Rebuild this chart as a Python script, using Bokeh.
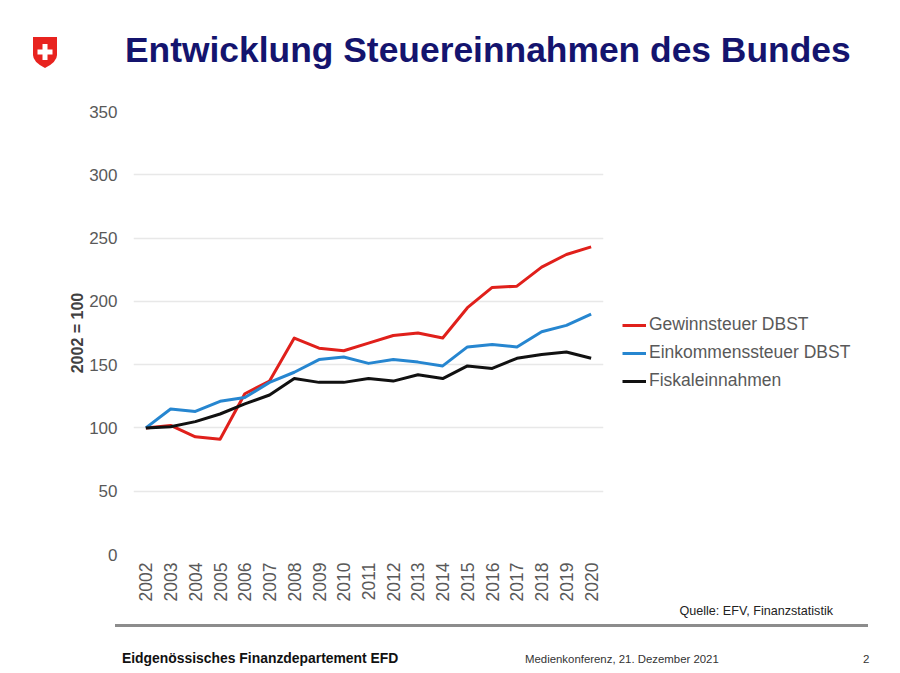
from bokeh.plotting import figure
from bokeh.layouts import column
from bokeh.models import FixedTicker, Legend, LegendItem, Range1d, Div
from bokeh.embed import file_html
from bokeh.resources import INLINE
import math

years = list(range(2002, 2021))
gewinnsteuer = [100, 102, 93, 91, 127, 137, 171, 163, 161, 167, 173, 175, 171,
                195, 211, 212, 227, 237, 243]
einkommenssteuer = [100, 115, 113, 121, 124, 136, 144, 154, 156, 151, 154, 152, 149,
                    164, 166, 164, 176, 181, 190]
fiskaleinnahmen = [100, 101, 105, 111, 119, 126, 139, 136, 136, 139, 137, 142, 139,
                   149, 147, 155, 158, 160, 155]
series_names = ["Gewinnsteuer DBST", "Einkommenssteuer DBST", "Fiskaleinnahmen"]
series_colors = ["#e0201b", "#2686d0", "#111111"]
y_ticks = [0, 50, 100, 150, 200, 250, 300, 350]

W = 884
FONT = "Liberation Sans"
GRAY = "#595959"

def span(txt, left, baseline, size, color, weight="normal", right=None):
    top = baseline - 0.8465 * size
    pos = f"left:{left}px;" if right is None else f"right:{right}px;"
    return (f'<span style="position:absolute;{pos}top:{top:.1f}px;font-family:\'{FONT}\';'
            f'font-size:{size}px;line-height:1;font-weight:{weight};color:{color};'
            f'white-space:nowrap;">{txt}</span>')

# ---------- header ----------
HEAD_H = 95
shield_svg = ('<svg style="position:absolute;left:33px;top:37px" width="25" height="32" '
              'viewBox="0 0 25 32"><path d="M0 0 H24 V18 Q24 25 12 31 Q0 25 0 18 Z" '
              'fill="#e8231f"/><rect x="9.5" y="7" width="5" height="16" fill="#fff"/>'
              '<rect x="4.5" y="12.5" width="15" height="5" fill="#fff"/></svg>')
head_html = (f'<div style="position:relative;width:{W}px;height:{HEAD_H}px;">'
             + shield_svg
             + span("Entwicklung Steuereinnahmen des Bundes", 125, 63, 35.4, "#14146e", "bold")
             + '</div>')
head = Div(text=head_html, width=W, height=HEAD_H, margin=0)

# ---------- main chart ----------
p = figure(frame_width=470, frame_height=443, output_backend="svg", toolbar_location=None,
           x_range=Range1d(2001.5, 2020.5), y_range=Range1d(0, 350),
           min_border_left=133, min_border_right=W - 603, min_border_top=16,
           min_border_bottom=51, outline_line_color=None, margin=0,
           background_fill_color="white", border_fill_color="white")

renderers = []
for vals, col in zip([gewinnsteuer, einkommenssteuer, fiskaleinnahmen], series_colors):
    r = p.line(years, vals, line_color=col, line_width=3, line_join="round")
    renderers.append(r)

p.xgrid.grid_line_color = None
p.ygrid.grid_line_color = "#e8e8e8"
p.ygrid.grid_line_width = 1.5
p.yaxis.ticker = FixedTicker(ticks=y_ticks)
p.xaxis.ticker = FixedTicker(ticks=years)

for ax in (p.xaxis[0], p.yaxis[0]):
    ax.axis_line_color = None
    ax.major_tick_line_color = None
    ax.minor_tick_line_color = None
    ax.major_tick_out = 0
    ax.major_tick_in = 0
    ax.major_label_text_font = FONT
    ax.major_label_text_color = GRAY
    ax.major_label_text_font_size = "17px"

p.yaxis.major_label_standoff = 16
p.yaxis.axis_label = "2002 = 100"
p.yaxis.axis_label_text_font = FONT
p.yaxis.axis_label_text_font_style = "bold"
p.yaxis.axis_label_text_font_size = "16px"
p.yaxis.axis_label_text_color = "#404040"
p.yaxis.axis_label_standoff = 0

p.xaxis.major_label_orientation = math.pi / 2
p.xaxis.major_label_standoff = 8
p.xaxis.major_label_text_font_size = "17.5px"

legend = Legend(items=[LegendItem(label=n, renderers=[r]) for n, r in zip(series_names, renderers)],
                location=(19, 163), label_text_font=FONT, label_text_color=GRAY,
                label_text_font_size="17.5px", glyph_width=24, glyph_height=20,
                label_height=20, label_standoff=3, spacing=7, padding=0, margin=0,
                border_line_alpha=0, background_fill_alpha=0)
p.add_layout(legend, "right")

# ---------- footer ----------
FOOT_Y0 = 95 + 510
FOOT_H = 665 - FOOT_Y0
fy = lambda v: v - FOOT_Y0
foot_html = (f'<div style="position:relative;width:{W}px;height:{FOOT_H}px;">'
             + span("Quelle: EFV, Finanzstatistik", None, fy(616), 12.6, "#222222", right=W - 833)
             + f'<div style="position:absolute;left:115px;top:{fy(624):.1f}px;width:753px;'
               f'height:2.5px;background:#8c8c8c;"></div>'
             + span("Eidgenössisches Finanzdepartement EFD", 122, fy(664), 13.9, "#111111", "bold")
             + span("Medienkonferenz, 21. Dezember 2021", 525, fy(664), 11.4, "#333333")
             + span("2", 863, fy(664), 11.5, "#333333")
             + '</div>')
foot = Div(text=foot_html, width=W, height=FOOT_H, margin=0)

layout = column(head, p, foot, spacing=0, margin=0)
open("out.html", "w").write(file_html(layout, INLINE))
